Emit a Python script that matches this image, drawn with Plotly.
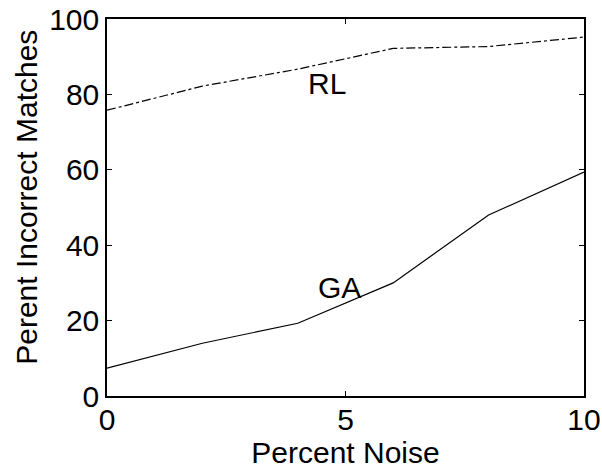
import plotly.graph_objects as go

noise = [0, 2, 4, 6, 8, 10]
ga = [7.4, 14.0, 19.3, 30.0, 48.0, 59.4]
rl = [75.8, 82.2, 86.7, 92.2, 92.7, 95.2]

fig = go.Figure()
fig.add_trace(go.Scatter(x=noise, y=ga, mode="lines", line=dict(color="black", width=1.2)))
fig.add_trace(go.Scatter(x=noise, y=rl, mode="lines", line=dict(color="black", width=1.2, dash="dashdot")))

FS = 30
fig.add_annotation(x=4.61, y=82.8, text="RL", showarrow=False, font=dict(size=FS, color="black"))
fig.add_annotation(x=4.88, y=28.9, text="GA", showarrow=False, font=dict(size=FS, color="black"))
fig.add_annotation(xref="paper", yref="paper", x=-0.168, y=0.528, text="Perent Incorrect Matches",
                   textangle=-90, showarrow=False, xanchor="center", yanchor="middle",
                   font=dict(size=FS, color="black"))

axis_common = dict(showgrid=False, zeroline=False, showline=True, linecolor="black", linewidth=1.5,
                   mirror="ticks", ticks="inside", ticklen=5, tickcolor="black", automargin=False,
                   tickfont=dict(size=FS, color="black"))
fig.update_xaxes(range=[0, 10], tickvals=[0, 5, 10], ticklabelstandoff=-4,
                 title=dict(text="Percent Noise", font=dict(size=FS, color="black"), standoff=3), **axis_common)
fig.update_yaxes(range=[0, 100], tickvals=[0, 20, 40, 60, 80, 100], **axis_common)

fig.update_layout(width=602, height=471, margin=dict(l=107, r=18, t=19, b=75),
                  showlegend=False, plot_bgcolor="white", paper_bgcolor="white",
                  font=dict(family="Liberation Sans, Arial, sans-serif"))
fig.write_html("out.html", config={"displayModeBar": False},
               post_script="document.body.style.margin='0';document.body.style.overflow='hidden';")
